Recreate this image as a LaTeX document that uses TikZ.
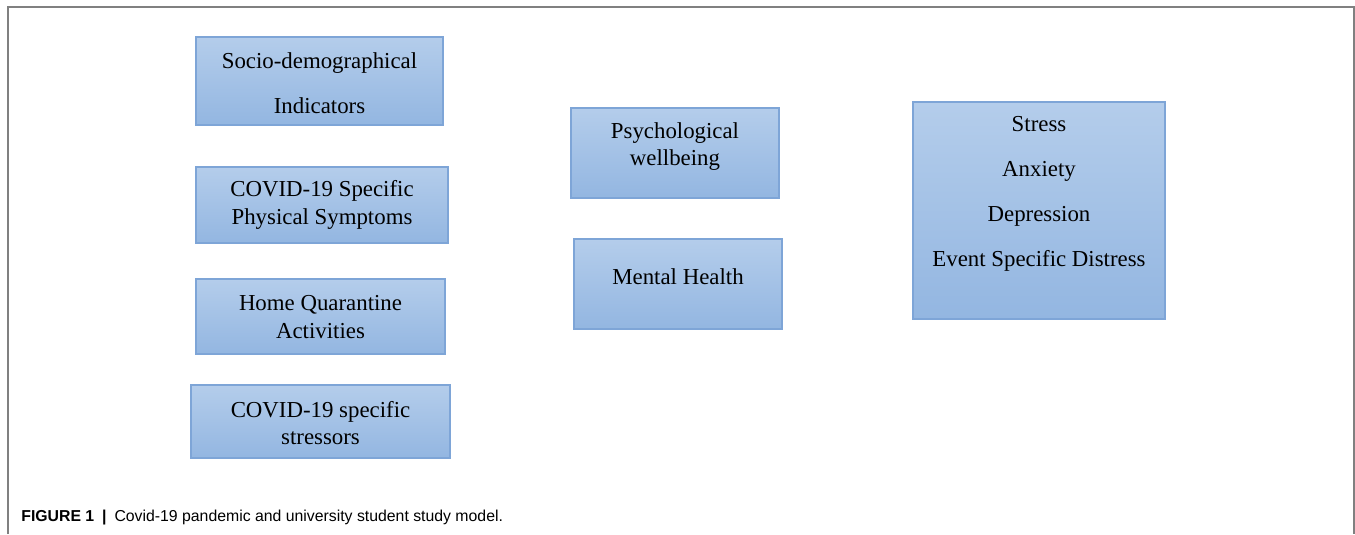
\documentclass[tikz,border=0pt]{standalone}
\usepackage{fontspec}
\setmainfont{Liberation Serif}
\newfontfamily\capfont{Liberation Sans}
\usetikzlibrary{positioning}

\definecolor{boxtop}{HTML}{B4CDEB}
\definecolor{boxbot}{HTML}{93B6E1}
\definecolor{boxline}{HTML}{7EA5D7}
\definecolor{framegray}{HTML}{808080}

\tikzset{
	varbox/.style={draw=boxline, line width=0.8pt, top color=boxtop, bottom color=boxbot,
		inner sep=0pt, outer sep=0pt},
	vartext/.style={align=center, inner sep=0pt, font=\fontsize{13}{15.6}\selectfont},
	loosetext/.style={align=center, inner sep=0pt, font=\fontsize{13}{25.6}\selectfont},
}

\begin{document}
\begin{tikzpicture}[x=0.02cm, y=-0.02cm]
			\useasboundingbox (0,0) rectangle (1355,534);
			\draw[framegray, line width=0.6pt] (8,534) -- (8,7) -- (1354,7) -- (1354,534);
			% predictors
			\node[varbox, minimum width=4.94cm, minimum height=1.76cm] (socio) at (319.5,81) {};
			\node[varbox, minimum width=5.04cm, minimum height=1.52cm] (symptoms) at (322,205) {};
			\node[varbox, minimum width=4.98cm, minimum height=1.50cm] (quarantine) at (320.5,316.5) {};
			\node[varbox, minimum width=5.18cm, minimum height=1.46cm] (stressors) at (320.5,421.5) {};
			\node[loosetext] (sociotext) at (319.5,83) {Socio-demographical\\Indicators};
			\node[vartext] (symptomstext) at (322,205) {COVID-19 Specific\\Physical Symptoms};
			\node[vartext] (quarantinetext) at (320.5,317) {Home Quarantine\\Activities};
			\node[vartext] (stressorstext) at (320.5,423) {COVID-19 specific\\stressors};
			% middle
			\node[varbox, minimum width=4.16cm, minimum height=1.80cm] (wellbeing) at (675,153) {};
			\node[varbox, minimum width=4.16cm, minimum height=1.80cm] (mental) at (678,284) {};
			\node[vartext] (wellbeingtext) at (675,146.5) {Psychological\\wellbeing};
			\node[vartext] (mentaltext) at (678,277) {Mental Health};
			% outcomes
			\node[varbox, minimum width=5.04cm, minimum height=4.34cm] (outcomes) at (1039,210.5) {};
			\node[loosetext] (outcomestext) at (1039,193.5) {Stress\\Anxiety\\Depression\\Event Specific Distress};
			% caption
			\node[anchor=west, inner sep=0pt, font=\capfont\fontsize{9}{11}\selectfont] (caption) at (21,518)
				{\textbf{FIGURE 1}\enspace\textbf{|}\enspace Covid-19 pandemic and university student study model.};
		\end{tikzpicture}
\end{document}
